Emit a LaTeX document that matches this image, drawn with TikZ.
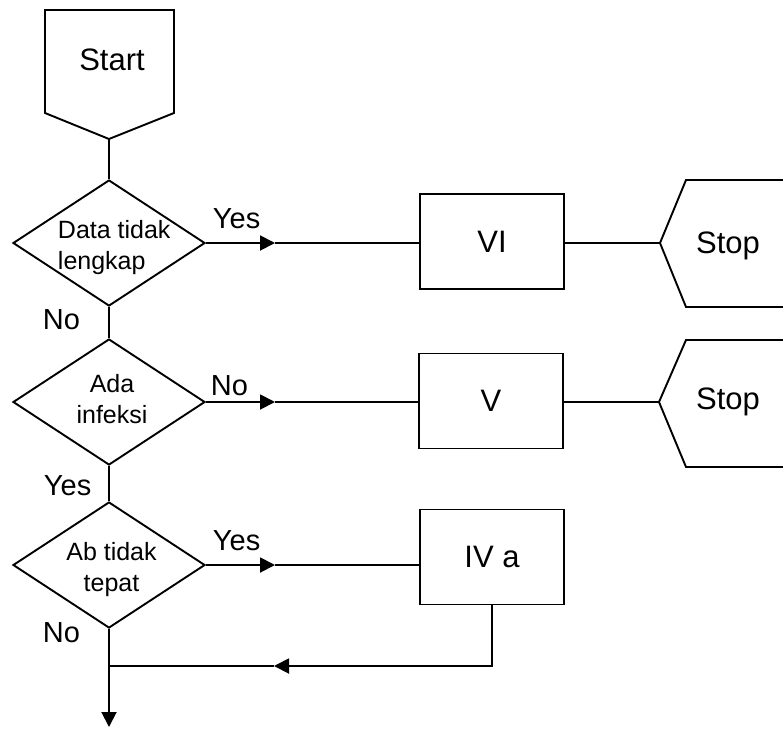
\documentclass[tikz,border=0pt]{standalone}
\usepackage{fontspec}
\setmainfont{Liberation Sans}
\usetikzlibrary{shapes.geometric,arrows.meta}
\begin{document}
\begin{tikzpicture}[x=1pt,y=-1pt,line width=1.9pt,
  big/.style={font=\fontsize{31}{37}\selectfont},
  lab/.style={font=\fontsize{29}{35}\selectfont,anchor=base west,inner sep=0pt},
  dtext/.style={font=\fontsize{25}{31}\selectfont,inner sep=0pt},
  dia/.style={diamond,draw,minimum width=192pt,minimum height=126pt,inner sep=0pt},
  box/.style={rectangle,draw,minimum width=144pt,minimum height=95pt,big},
  arr/.style={-{Triangle[length=15pt,width=15pt]}}]
\useasboundingbox (0,0) rectangle (783,728);
% Start terminal
\draw (45,10) -- (174,10) -- (174,113) -- (109,139) -- (45,113) -- cycle;
\coordinate (st) at (109,139);
\node[big,anchor=base] (starttxt) at (112,70) {Start};
% decisions
\node[dia] (d1) at (109,243) {};
\node[dtext,align=left,anchor=west] (d1t) at (57,247.5) {Data tidak\\lengkap};
\node[dia] (d2) at (109,402) {};
\node[dtext,align=center] (d2t) at (112,399) {Ada\\infeksi};
\node[dia] (d3) at (109,565) {};
\node[dtext,align=center] (d3t) at (111.5,570) {Ab tidak\\tepat};
% boxes
\node[box] (vi) at (492,241.5) {VI};
\node[box] (v) at (491,401) {V};
\node[box] (iva) at (492,557) {IV a};
% stop terminals
\draw (784,180) -- (686,180) -- (660,243) -- (686,307) -- (784,307);
\coordinate (s1) at (660,243);
\node[big,anchor=base] (stop1) at (728,253) {Stop};
\draw (784,340) -- (686,340) -- (659,402) -- (686,467) -- (784,467);
\coordinate (s2) at (659,402);
\node[big,anchor=base] (stop2) at (728,409) {Stop};
% arrow points
\coordinate (a1) at (275,243);
\coordinate (a2) at (275,402);
\coordinate (a3) at (275,565);
\coordinate (fb) at (274,666);
\coordinate (j) at (109,666);
\coordinate (endc) at (109,727);
% connectors
\draw (st) -- (d1.north);
\draw[arr] (d1.east) -- (a1);
\draw (a1) -- (a1 -| vi.west);
\draw (a1 -| vi.east) -- (s1);
\draw (d1.south) -- (d2.north);
\draw[arr] (d2.east) -- (a2);
\draw (a2) -- (a2 -| v.west);
\draw (a2 -| v.east) -- (s2);
\draw (d2.south) -- (d3.north);
\draw[arr] (d3.east) -- (a3);
\draw (a3) -- (a3 -| iva.west);
\draw[arr] (iva.south) |- (fb);
\draw (fb) -- (j);
\draw[arr] (d3.south) -- (endc);
% labels
\node[lab] (l1) at (212,228) {Yes};
\node[lab] (l2) at (42,329) {No};
\node[lab] (l3) at (210,395) {No};
\node[lab] (l4) at (43,495) {Yes};
\node[lab] (l5) at (212,550) {Yes};
\node[lab] (l6) at (42,642) {No};
\end{tikzpicture}
\end{document}
